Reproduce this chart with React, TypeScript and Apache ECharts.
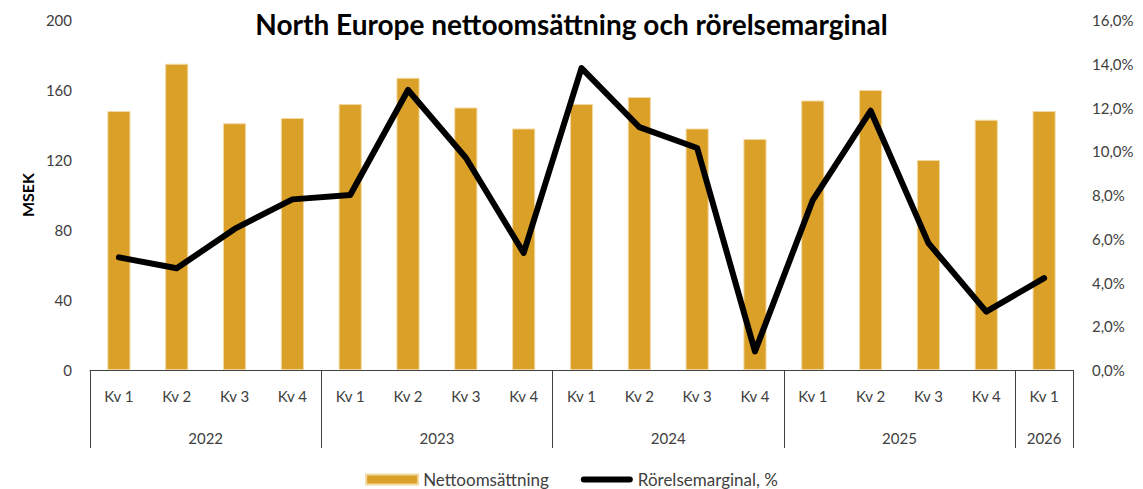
import React, { useEffect, useRef } from "react";
import * as echarts from "echarts";

const quarters = ["Kv 1", "Kv 2", "Kv 3", "Kv 4", "Kv 1", "Kv 2", "Kv 3", "Kv 4", "Kv 1", "Kv 2", "Kv 3", "Kv 4", "Kv 1", "Kv 2", "Kv 3", "Kv 4", "Kv 1"];
const years = ["2022", "2023", "2024", "2025", "2026"];
const quartersPerYear = [4, 4, 4, 4, 1];
const netSales = [148, 175, 141, 144, 152, 167, 150, 138, 152, 156, 138, 132, 154, 160, 120, 143, 148];
const operatingMargin = [5.15, 4.65, 6.45, 7.8, 8.0, 12.8, 9.7, 5.35, 13.8, 11.1, 10.15, 0.85, 7.77, 11.85, 5.8, 2.67, 4.2];
const salesTicks = { min: 0, max: 200, interval: 40 };
const marginTicks = { min: 0, max: 16, interval: 2 };

const FONT = "Lato";
const GREY = "#404040";

export default function App() {
  const ref = useRef<HTMLDivElement>(null);

  useEffect(() => {
    if (!ref.current) return;
    const chart = echarts.init(ref.current, undefined, { renderer: "svg" });

    const boundaries: number[] = [0];
    quartersPerYear.forEach((n) => boundaries.push(boundaries[boundaries.length - 1] + n));
    const centers = quartersPerYear.map((n, i) => boundaries[i] + n / 2);

    const option: any = {
      animation: false,
      backgroundColor: "#ffffff",
      title: {
        text: "North Europe nettoomsättning och rörelsemarginal",
        left: "center",
        top: 5,
        textStyle: { fontFamily: FONT, fontSize: 28, fontWeight: "bold", color: "#000000" },
      },
      grid: { left: 90, right: 70, top: 20, bottom: 119 },
      legend: {
        bottom: 1,
        left: "center",
        padding: 0,
        itemWidth: 52,
        itemHeight: 10,
        itemGap: 32,
        textStyle: { fontFamily: FONT, fontSize: 17, color: GREY },
        data: [
          { name: "Nettoomsättning", icon: "rect" },
          { name: "Rörelsemarginal, %", icon: "path://M3,0 L49,0 A3,3 0 0 1 49,6 L3,6 A3,3 0 0 1 3,0 Z" },
        ],
      },
      xAxis: [
        {
          type: "category",
          data: quarters,
          boundaryGap: true,
          axisLine: { show: true, lineStyle: { color: GREY, width: 1 } },
          axisTick: { show: false },
          axisLabel: { interval: 0, margin: 18, fontFamily: FONT, fontSize: 15, color: GREY },
          splitLine: { show: false },
        },
        {
          type: "value",
          position: "bottom",
          offset: 0,
          min: 0,
          max: quarters.length,
          axisLine: { show: false },
          splitLine: { show: false },
          axisTick: {
            show: true,
            customValues: boundaries,
            length: 78,
            lineStyle: { color: GREY, width: 1 },
          },
          axisLabel: {
            customValues: centers,
            margin: 60,
            fontFamily: FONT,
            fontSize: 15,
            color: GREY,
            formatter: (v: number) => {
              const i = centers.indexOf(v);
              return i >= 0 ? years[i] : "";
            },
          },
        },
      ],
      yAxis: [
        {
          type: "value",
          min: salesTicks.min,
          max: salesTicks.max,
          interval: salesTicks.interval,
          name: "MSEK",
          nameLocation: "middle",
          nameGap: 54,
          nameTextStyle: { fontFamily: FONT, fontSize: 16, fontWeight: "bold", color: "#000000" },
          axisLine: { show: false },
          axisTick: { show: false },
          splitLine: { show: false },
          axisLabel: { margin: 18, fontFamily: FONT, fontSize: 15, color: GREY },
        },
        {
          type: "value",
          min: marginTicks.min,
          max: marginTicks.max,
          interval: marginTicks.interval,
          position: "right",
          axisLine: { show: false },
          axisTick: { show: false },
          splitLine: { show: false },
          axisLabel: {
            margin: 19,
            fontFamily: FONT,
            fontSize: 15,
            color: GREY,
            formatter: (v: number) => v.toFixed(1).replace(".", ",") + "%",
          },
        },
      ],
      series: [
        {
          name: "Nettoomsättning",
          type: "bar",
          xAxisIndex: 0,
          yAxisIndex: 0,
          data: netSales,
          barWidth: "40%",
          itemStyle: { color: "#DBA027", borderColor: "#F2D9A2", borderWidth: 1 },
        },
        {
          name: "Rörelsemarginal, %",
          type: "line",
          xAxisIndex: 0,
          yAxisIndex: 1,
          data: operatingMargin,
          symbol: "none",
          lineStyle: { color: "#000000", width: 6, join: "round", cap: "round" },
          itemStyle: { color: "#000000" },
        },
      ],
    };

    chart.setOption(option);
    return () => chart.dispose();
  }, []);

  return <div ref={ref} style={{ position: "fixed", left: 0, top: 0, width: 1143, height: 489 }} />;
}
